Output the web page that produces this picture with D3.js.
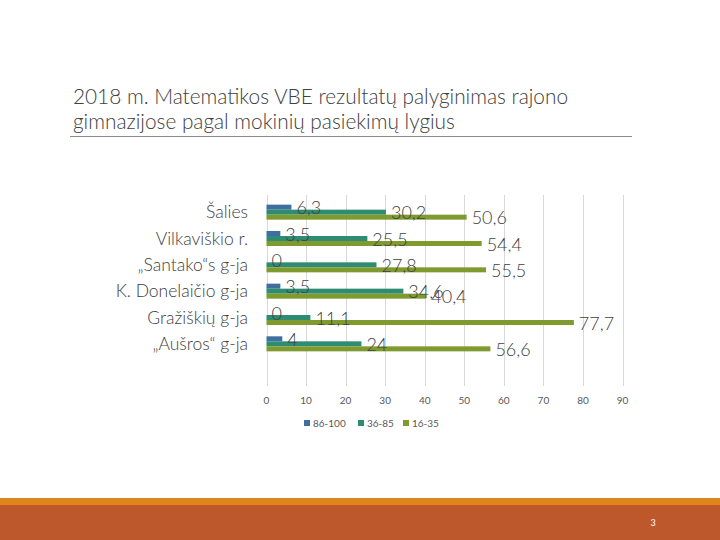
<!DOCTYPE html>
<html>
<head>
<meta charset="utf-8">
<script src="https://cdn.jsdelivr.net/npm/d3@7"></script>
<style>
  html, body { margin: 0; padding: 0; background: #fff; }
  svg { display: block; font-family: Lato, "Open Sans", sans-serif; }
</style>
</head>
<body>
<div id="chart"></div>
<script>
const categories = ["Šalies", "Vilkaviškio r.", "„Santako“s g-ja", "K. Donelaičio g-ja", "Gražiškių g-ja", "„Aušros“ g-ja"];
const seriesNames = ["86-100", "36-85", "16-35"];
const values8600 = [6.3, 3.5, 0, 3.5, 0, 4];
const values3685 = [30.2, 25.5, 27.8, 34.6, 11.1, 24];
const values1635 = [50.6, 54.4, 55.5, 40.4, 77.7, 56.6];
const xTicks = [0, 10, 20, 30, 40, 50, 60, 70, 80, 90];
const colors = ["#3f6ea0", "#2e8c72", "#7f9a2f"];

const W = 720, H = 540;
const svg = d3.select("#chart").append("svg")
  .attr("width", W).attr("height", H);

// --- title ---
const title = svg.append("text")
  .attr("x", 73).attr("y", 104)
  .attr("fill", "#404040")
  .attr("font-size", "20.8px")
  .attr("font-weight", 300);
title.append("tspan").attr("x", 73).text("2018 m. Matematikos VBE rezultatų palyginimas rajono");
title.append("tspan").attr("x", 73).attr("dy", 24.5).text("gimnazijose pagal mokinių pasiekimų lygius");

svg.append("line")
  .attr("x1", 70).attr("x2", 632)
  .attr("y1", 136.5).attr("y2", 136.5)
  .attr("stroke", "#8c8c8c").attr("stroke-width", 1);

// --- scales ---
const x = d3.scaleLinear().domain([0, 90]).range([266.5, 622.5]);
const y = d3.scaleBand().domain(categories).range([199, 357]).paddingInner(0.43).paddingOuter(0.215);
const ySub = d3.scaleBand().domain(seriesNames).range([0, y.bandwidth()]);

// gridlines
svg.append("g")
  .selectAll("line")
  .data(xTicks)
  .join("line")
  .attr("x1", d => Math.round(x(d)) + 0.5)
  .attr("x2", d => Math.round(x(d)) + 0.5)
  .attr("y1", 195).attr("y2", 386)
  .attr("stroke", "#d9d9d9");

// x tick labels
svg.append("g")
  .selectAll("text")
  .data(xTicks)
  .join("text")
  .attr("x", d => x(d))
  .attr("y", 404)
  .attr("text-anchor", "middle")
  .attr("font-size", "10px")
  .attr("fill", "#595959")
  .text(d => d);

// category labels
svg.append("g")
  .selectAll("text")
  .data(categories)
  .join("text")
  .attr("x", 248)
  .attr("y", d => y(d) + y.bandwidth() / 2)
  .attr("dy", "0.35em")
  .attr("text-anchor", "end")
  .attr("font-size", "17.5px")
  .attr("font-weight", 300)
  .attr("fill", "#404040")
  .text(d => d);

// bars
const allSeries = [values8600, values3685, values1635];
const rows = [];
allSeries.forEach((vals, s) => {
  vals.forEach((v, i) => rows.push({ cat: categories[i], series: seriesNames[s], s, v }));
});

const barsG = svg.append("g");
barsG.selectAll("rect")
  .data(rows)
  .join("rect")
  .attr("x", x(0))
  .attr("y", d => y(d.cat) + ySub(d.series))
  .attr("width", d => x(d.v) - x(0))
  .attr("height", ySub.bandwidth())
  .attr("fill", d => colors[d.s]);

// data labels
const fmt = v => String(v).replace(".", ",");
svg.append("g")
  .selectAll("text")
  .data(rows)
  .join("text")
  .attr("x", d => x(d.v) + 5)
  .attr("y", d => y(d.cat) + ySub(d.series) + ySub.bandwidth() / 2 + 1)
  .attr("dy", "0.35em")
  .attr("font-size", "18px")
  .attr("font-weight", 300)
  .attr("fill", "#404040")
  .text(d => fmt(d.v));

// legend
const legendX = [304, 358, 403];
const legend = svg.append("g");
seriesNames.forEach((name, i) => {
  legend.append("rect")
    .attr("x", legendX[i]).attr("y", 420)
    .attr("width", 6).attr("height", 6)
    .attr("fill", colors[i]);
  legend.append("text")
    .attr("x", legendX[i] + 9).attr("y", 423)
    .attr("dy", "0.35em")
    .attr("font-size", "10px")
    .attr("fill", "#595959")
    .text(name);
});

// footer
svg.append("rect").attr("x", 0).attr("y", 498).attr("width", W).attr("height", 7).attr("fill", "#e0851b");
svg.append("rect").attr("x", 0).attr("y", 505).attr("width", W).attr("height", 35).attr("fill", "#bc582c");
svg.append("text")
  .attr("x", 653).attr("y", 526)
  .attr("text-anchor", "middle")
  .attr("font-size", "9px")
  .attr("fill", "#fff")
  .text("3");
</script>
</body>
</html>
